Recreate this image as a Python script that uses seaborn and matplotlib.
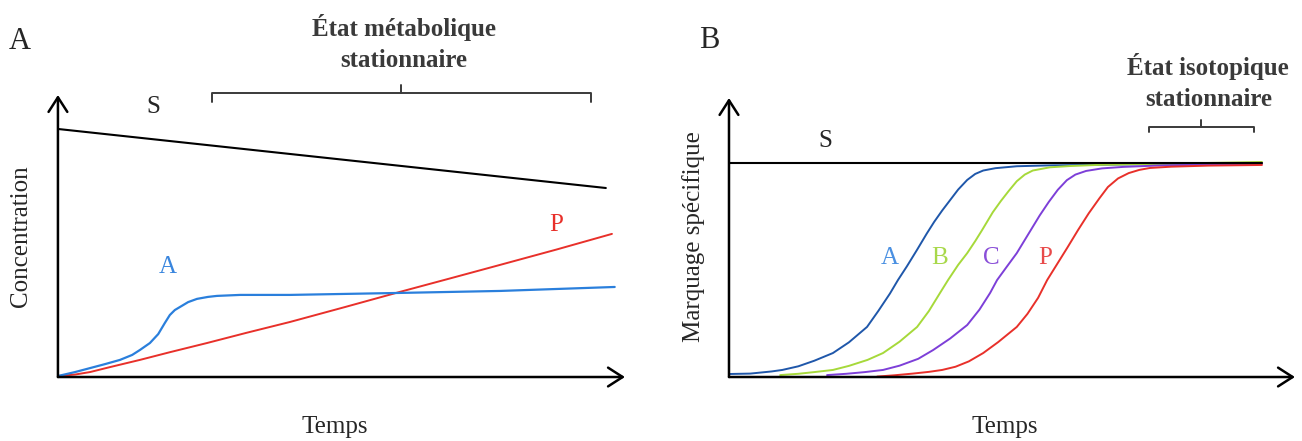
import matplotlib
matplotlib.use('Agg')
import matplotlib.pyplot as plt
import seaborn as sns

sns.set_style('white')
plt.rcParams['font.family'] = ['Liberation Serif', 'DejaVu Serif']

# Panel A: concentrations vs time (arbitrary units, 0-100)
s_a_time = [0, 98.9]
s_a_conc = [100, 76.2]

a_a_time = [0, 3.1, 5.8, 8.5, 11.2, 13.4, 14.8, 16.6, 18.1, 19.3, 20.2, 21.1, 22.0,
            23.5, 25.1, 27.1, 28.7, 32.9, 41.9, 61.7, 79.8, 100.5]
a_a_conc = [0.4, 2.0, 3.6, 5.2, 6.9, 8.9, 10.9, 13.7, 17.3, 21.8, 25.0, 27.0, 28.2,
            30.2, 31.5, 32.3, 32.7, 33.1, 33.1, 33.9, 34.7, 36.3]

p_a_time = [0, 3.1, 5.8, 9.4, 14.8, 20.2, 26.9, 34, 41.9, 51.8, 61.7, 70.7, 79.8, 90, 100]
p_a_conc = [0.4, 1.0, 2.0, 4.0, 6.9, 10.0, 13.7, 17.8, 22.2, 28.2, 34.3, 39.7, 45.2,
            51.4, 57.7]

# Panel B: specific labelling vs time
s_b_time = [0, 100]
s_b_mark = [100, 100]

a_b_time = [0, 4, 8, 10, 13, 16, 19.5, 22.5, 25.9, 28, 30.2, 31.7, 33.4, 35.3, 37.1,
            38.5, 40, 41.5, 43, 44.7, 46.2, 47.7, 50, 54, 60, 70, 80, 100]
a_b_mark = [1.4, 1.6, 2.6, 3.3, 5.0, 7.6, 11.2, 16.2, 23.4, 30.8, 39.0, 45.3, 51.8,
            59.5, 67.0, 72.5, 77.8, 82.7, 87.6, 92.1, 94.9, 96.5, 97.6, 98.5, 98.9,
            99.2, 99.5, 100]

b_b_time = [9.6, 13, 16, 19.5, 22.5, 26, 28.9, 32, 35.3, 37.5, 39.6, 41.1, 43, 44.7,
            46.2, 47.5, 49.5, 51, 52.5, 54, 55.5, 57, 60.2, 64, 70, 80, 100]
b_b_mark = [0.9, 1.5, 2.3, 3.3, 5.2, 8.0, 11.2, 16.5, 23.4, 30.8, 39.3, 45.3, 52.4,
            57.9, 63.5, 68.7, 77.0, 82.2, 87.0, 91.5, 94.6, 96.5, 98.0, 98.6, 99.2,
            99.6, 100.5]

c_b_time = [18.4, 22, 25.5, 28.9, 32, 35.5, 38.3, 41.5, 44.7, 47, 49, 50.3, 52.2, 54,
            56.1, 58.3, 60, 61.7, 63.4, 65, 67, 70, 74, 80, 90, 100]
c_b_mark = [0.9, 1.5, 2.3, 3.3, 5.3, 8.5, 12.6, 18.0, 24.3, 31.5, 39.3, 45.3, 51.8,
            57.9, 66.5, 75.5, 81.8, 87.5, 92.0, 94.6, 96.3, 97.5, 98.2, 98.8, 99.3, 99.6]

p_b_time = [27.8, 31, 34.5, 37.5, 40, 42.5, 45, 47.7, 50.5, 54, 56, 58, 59.7, 61.5,
            63.5, 65.5, 67.5, 69.5, 71.1, 73, 75, 77, 79, 83, 90, 100]
p_b_mark = [0.2, 0.8, 1.6, 2.4, 3.3, 4.8, 7.3, 11.2, 16.3, 23.4, 29.5, 37.0, 45.3,
            52.5, 60.5, 68.7, 76.5, 83.5, 88.8, 92.8, 95.3, 96.8, 97.7, 98.3, 98.8, 99.1]

fig = plt.figure(figsize=(13.02, 4.41), dpi=100)
ax_a = fig.add_axes([0.0445, 0.1451, 0.4355, 0.6395])
ax_b = fig.add_axes([0.5599, 0.1451, 0.4347, 0.6327])


def draw_axes(ax, xmax, ymax):
    ax.set_xlim(0, xmax)
    ax.set_ylim(0, ymax)
    ax.set_xticks([])
    ax.set_yticks([])
    for sp in ax.spines.values():
        sp.set_visible(False)
    style = '->, head_length=0.7, head_width=0.45'
    for tip in [(1, 0), (0, 1)]:
        ax.annotate('', xy=tip, xytext=(0, 0), xycoords='axes fraction',
                    arrowprops=dict(arrowstyle=style, lw=1.8, color='black',
                                    mutation_scale=15, shrinkA=0, shrinkB=0))


def bracket(ax, x0, x1, y, drop, rise):
    xm = (x0 + x1) / 2
    ax.plot([x0, x0, x1, x1], [y - drop, y, y, y - drop], color='#3a3a3a', lw=1.4,
            clip_on=False, solid_joinstyle='round')
    ax.plot([xm, xm], [y, y + rise], color='#3a3a3a', lw=1.4, clip_on=False)


# ---- Panel A ----
draw_axes(ax_a, 102.35, 113.7)
sns.lineplot(x=s_a_time, y=s_a_conc, ax=ax_a, color='black', lw=1.5)
sns.lineplot(x=p_a_time, y=p_a_conc, ax=ax_a, color='#e8302a', lw=1.4)
sns.lineplot(x=a_a_time, y=a_a_conc, ax=ax_a, color='#2a7fdc', lw=1.6)
ax_a.text(17.3, 108.9, 'S', fontsize=18, ha='center', va='center', clip_on=False)
ax_a.text(19.9, 44.4, 'A', fontsize=18, color='#3a86de', ha='center', va='center')
ax_a.text(89.9, 61.3, 'P', fontsize=18, color='#e8302a', ha='center', va='center')
bracket(ax_a, 27.8, 96.2, 114.5, 3.6, 3.2)

# ---- Panel B ----
draw_axes(ax_b, 106.2, 130.4)
sns.lineplot(x=a_b_time, y=a_b_mark, ax=ax_b, color='#1f57aa', lw=1.4)
sns.lineplot(x=b_b_time, y=b_b_mark, ax=ax_b, color='#a6d93a', lw=1.4)
sns.lineplot(x=c_b_time, y=c_b_mark, ax=ax_b, color='#7d3fd8', lw=1.4)
sns.lineplot(x=p_b_time, y=p_b_mark, ax=ax_b, color='#e8302a', lw=1.4)
sns.lineplot(x=s_b_time, y=s_b_mark, ax=ax_b, color='black', lw=1.5)
ax_b.text(18.0, 110.3, 'S', fontsize=18, ha='center', va='center')
for lab, xpos, col in [('A', 30.2, '#4a90e2'), ('B', 39.6, '#a8d84a'),
                       ('C', 49.3, '#8a4fd8'), ('P', 59.3, '#e84a4a')]:
    ax_b.text(xpos, 55.6, lab, fontsize=18, color=col, ha='center', va='center')
bracket(ax_b, 78.8, 98.5, 116.8, 2.3, 3.2)

# ---- Figure texts ----
fig.text(0.0154, 0.907, 'A', fontsize=22, ha='center', va='center')
fig.text(0.545, 0.909, 'B', fontsize=22, ha='center', va='center')
fig.text(0.310, 0.9025, 'État métabolique\nstationnaire', fontsize=18, fontweight='bold',
         color='#3a3a3a', ha='center', va='center', linespacing=1.44)
fig.text(0.928, 0.814, 'État isotopique\nstationnaire', fontsize=18, fontweight='bold',
         color='#3a3a3a', ha='center', va='center', linespacing=1.44)
fig.text(0.257, 0.032, 'Temps', fontsize=18, ha='center', va='center')
fig.text(0.772, 0.032, 'Temps', fontsize=18, ha='center', va='center')
fig.text(0.0165, 0.465, 'Concentration', fontsize=18, rotation=90, ha='center', va='center')
fig.text(0.533, 0.463, 'Marquage spécifique', fontsize=18, rotation=90, ha='center',
         va='center')

fig.savefig('out.png', dpi=100)
